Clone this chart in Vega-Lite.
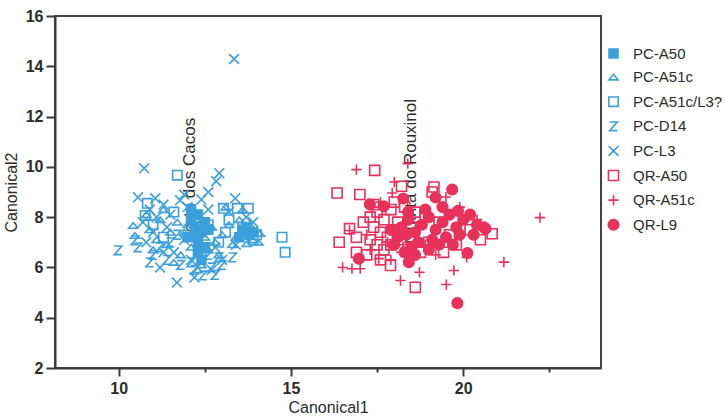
{
  "$schema": "https://vega.github.io/schema/vega-lite/v6.json",
  "width": 546,
  "height": 352,
  "autosize": {"type": "none"},
  "padding": {"left": 55, "top": 16, "right": 124, "bottom": 50},
  "background": "white",
  "config": {
    "font": "Liberation Sans",
    "view": {"stroke": "#454545", "strokeWidth": 2},
    "axis": {
      "grid": false,
      "domainColor": "#3a3a3a",
      "domainWidth": 2,
      "tickColor": "#3a3a3a",
      "tickWidth": 2,
      "labelFont": "Liberation Sans",
      "labelFontSize": 16,
      "labelFontWeight": "bold",
      "labelColor": "#2b2b2b",
      "titleFont": "Liberation Sans",
      "titleFontSize": 16,
      "titleFontWeight": "normal",
      "titleColor": "#2b2b2b"
    },
    "legend": {
      "padding": 0,
      "labelFont": "Liberation Sans",
      "labelFontSize": 15,
      "labelColor": "#2b2b2b",
      "rowPadding": 7.6,
      "labelOffset": 12,
      "symbolStrokeWidth": 1.6
    }
  },
  "encoding": {
    "x": {
      "field": "x",
      "type": "quantitative",
      "scale": {"domain": [8.15, 24], "nice": false, "zero": false},
      "axis": {
        "title": "Canonical1",
        "values": [10, 12.5, 15, 17.5, 20, 22.5],
        "labelExpr": "datum.value % 5 === 0 ? datum.label : ''",
        "tickSize": {"condition": {"test": "datum.value % 5 !== 0", "value": 4}, "value": 8},
        "labelPadding": 4,
        "titlePadding": 3
      }
    },
    "y": {
      "field": "y",
      "type": "quantitative",
      "scale": {"domain": [2, 16], "nice": false, "zero": false},
      "axis": {
        "title": "Canonical2",
        "values": [2, 4, 6, 8, 10, 12, 14, 16],
        "tickSize": 9,
        "labelPadding": 3,
        "titlePadding": 6
      }
    }
  },
  "layer": [
    {
      "data": {
        "values": [
          {"site": "Porto dos Cacos", "x": 12.07, "y": 6.95},
          {"site": "Quinta do Rouxinol", "x": 18.47, "y": 6.95}
        ]
      },
      "mark": {"type": "text", "angle": 270, "align": "left", "baseline": "middle", "fontSize": 17, "color": "#2a2a2a", "font": "Liberation Sans"},
      "encoding": {"text": {"field": "site", "type": "nominal"}}
    },
    {
      "data": {
        "values": [
          {"g": "PC-L3", "x": 13.35, "y": 14.29},
          {"g": "PC-L3", "x": 10.74, "y": 9.94},
          {"g": "PC-L3", "x": 12.92, "y": 9.75},
          {"g": "PC-L3", "x": 12.83, "y": 9.43},
          {"g": "PC-L3", "x": 10.56, "y": 8.79},
          {"g": "PC-L3", "x": 11.06, "y": 8.75},
          {"g": "PC-L3", "x": 11.78, "y": 8.67},
          {"g": "PC-L3", "x": 13.38, "y": 8.75},
          {"g": "PC-L3", "x": 11.2, "y": 6.0},
          {"g": "PC-L3", "x": 11.69, "y": 5.4},
          {"g": "PC-L3", "x": 10.9, "y": 8.3},
          {"g": "PC-L3", "x": 11.3, "y": 8.5},
          {"g": "PC-L3", "x": 11.5, "y": 8.1},
          {"g": "PC-L3", "x": 12.0, "y": 8.4},
          {"g": "PC-L3", "x": 12.4, "y": 8.7},
          {"g": "PC-L3", "x": 11.4, "y": 7.6},
          {"g": "PC-L3", "x": 11.0, "y": 7.4},
          {"g": "PC-L3", "x": 10.8, "y": 7.0},
          {"g": "PC-L3", "x": 11.6, "y": 6.6},
          {"g": "PC-L3", "x": 12.1, "y": 6.3},
          {"g": "PC-L3", "x": 12.7, "y": 5.9},
          {"g": "PC-L3", "x": 13.0, "y": 6.3},
          {"g": "PC-L3", "x": 13.2, "y": 8.2},
          {"g": "PC-L3", "x": 13.7, "y": 8.0},
          {"g": "PC-L3", "x": 12.6, "y": 8.3},
          {"g": "PC-L3", "x": 11.9, "y": 7.1},
          {"g": "PC-L3", "x": 12.8, "y": 6.8},
          {"g": "PC-L3", "x": 11.3, "y": 6.6},
          {"g": "PC-L3", "x": 13.4, "y": 6.9},
          {"g": "PC-L3", "x": 10.7, "y": 7.8},
          {"g": "PC-L3", "x": 11.9, "y": 8.9},
          {"g": "PC-L3", "x": 12.6, "y": 9.0},
          {"g": "PC-L3", "x": 13.9, "y": 7.8},
          {"g": "PC-L3", "x": 12.2, "y": 5.6},
          {"g": "PC-L3", "x": 11.1, "y": 8.0},
          {"g": "PC-A51c", "x": 10.42, "y": 7.67},
          {"g": "PC-A51c", "x": 10.47, "y": 7.27},
          {"g": "PC-A51c", "x": 10.9, "y": 7.5},
          {"g": "PC-A51c", "x": 11.2, "y": 7.9},
          {"g": "PC-A51c", "x": 11.1, "y": 7.1},
          {"g": "PC-A51c", "x": 11.5, "y": 7.4},
          {"g": "PC-A51c", "x": 11.7, "y": 7.8},
          {"g": "PC-A51c", "x": 11.4, "y": 6.9},
          {"g": "PC-A51c", "x": 11.8, "y": 6.5},
          {"g": "PC-A51c", "x": 12.0, "y": 7.7},
          {"g": "PC-A51c", "x": 12.2, "y": 8.1},
          {"g": "PC-A51c", "x": 12.5, "y": 7.2},
          {"g": "PC-A51c", "x": 12.7, "y": 7.6},
          {"g": "PC-A51c", "x": 12.8, "y": 7.0},
          {"g": "PC-A51c", "x": 13.0, "y": 7.3},
          {"g": "PC-A51c", "x": 13.2, "y": 7.7},
          {"g": "PC-A51c", "x": 13.5, "y": 7.9},
          {"g": "PC-A51c", "x": 13.72, "y": 6.94},
          {"g": "PC-A51c", "x": 14.05, "y": 7.0},
          {"g": "PC-A51c", "x": 14.1, "y": 7.35},
          {"g": "PC-A51c", "x": 13.3, "y": 6.9},
          {"g": "PC-A51c", "x": 13.8, "y": 7.7},
          {"g": "PC-A51c", "x": 13.6, "y": 8.3},
          {"g": "PC-A51c", "x": 13.1, "y": 8.4},
          {"g": "PC-A51c", "x": 12.9, "y": 6.5},
          {"g": "PC-A51c", "x": 12.4, "y": 6.1},
          {"g": "PC-A51c", "x": 11.6, "y": 6.2},
          {"g": "PC-A51c", "x": 11.0, "y": 6.7},
          {"g": "PC-A51c", "x": 10.8, "y": 8.1},
          {"g": "PC-A51c", "x": 11.9, "y": 7.4},
          {"g": "PC-A51c", "x": 12.6, "y": 6.7},
          {"g": "PC-A51c", "x": 13.4, "y": 7.2},
          {"g": "PC-A51c", "x": 13.9, "y": 7.1},
          {"g": "PC-A51c", "x": 12.1, "y": 6.8},
          {"g": "PC-A51c", "x": 11.3, "y": 8.3},
          {"g": "PC-A51c", "x": 12.3, "y": 5.9},
          {"g": "PC-A51c/L3?", "x": 11.7, "y": 9.67},
          {"g": "PC-A51c/L3?", "x": 10.83, "y": 8.55},
          {"g": "PC-A51c/L3?", "x": 10.77, "y": 8.07},
          {"g": "PC-A51c/L3?", "x": 13.04, "y": 8.35},
          {"g": "PC-A51c/L3?", "x": 13.44, "y": 8.35},
          {"g": "PC-A51c/L3?", "x": 13.76, "y": 8.35},
          {"g": "PC-A51c/L3?", "x": 14.74, "y": 7.2},
          {"g": "PC-A51c/L3?", "x": 14.83, "y": 6.6},
          {"g": "PC-A51c/L3?", "x": 12.2, "y": 8.0},
          {"g": "PC-A51c/L3?", "x": 12.6, "y": 7.7},
          {"g": "PC-A51c/L3?", "x": 13.2, "y": 7.9},
          {"g": "PC-A51c/L3?", "x": 13.6, "y": 7.6},
          {"g": "PC-A51c/L3?", "x": 11.3, "y": 7.2},
          {"g": "PC-A51c/L3?", "x": 13.9, "y": 7.1},
          {"g": "PC-A51c/L3?", "x": 13.1, "y": 7.4},
          {"g": "PC-A51c/L3?", "x": 11.6, "y": 8.2},
          {"g": "PC-A51c/L3?", "x": 12.9, "y": 7.0},
          {"g": "PC-A51c/L3?", "x": 14.0, "y": 7.3},
          {"g": "PC-A51c/L3?", "x": 11.0, "y": 7.7},
          {"g": "PC-A51c/L3?", "x": 12.4, "y": 6.6},
          {"g": "PC-D14", "x": 9.98, "y": 6.68},
          {"g": "PC-D14", "x": 10.47, "y": 7.08},
          {"g": "PC-D14", "x": 10.56, "y": 6.8},
          {"g": "PC-D14", "x": 12.45, "y": 5.68},
          {"g": "PC-D14", "x": 11.0, "y": 6.5},
          {"g": "PC-D14", "x": 11.4, "y": 6.3},
          {"g": "PC-D14", "x": 11.8, "y": 6.1},
          {"g": "PC-D14", "x": 12.7, "y": 6.0},
          {"g": "PC-D14", "x": 12.1, "y": 6.2},
          {"g": "PC-D14", "x": 11.5, "y": 7.0},
          {"g": "PC-D14", "x": 12.9, "y": 6.4},
          {"g": "PC-D14", "x": 12.2, "y": 5.9},
          {"g": "PC-D14", "x": 13.0, "y": 6.1},
          {"g": "PC-D14", "x": 11.2, "y": 6.8},
          {"g": "PC-D14", "x": 12.6, "y": 6.5},
          {"g": "PC-D14", "x": 11.7, "y": 7.3},
          {"g": "PC-D14", "x": 10.9, "y": 6.2},
          {"g": "PC-D14", "x": 13.3, "y": 6.4},
          {"g": "PC-D14", "x": 12.8, "y": 5.7},
          {"g": "PC-A50", "x": 12.1, "y": 7.9},
          {"g": "PC-A50", "x": 12.3, "y": 8.1},
          {"g": "PC-A50", "x": 12.5, "y": 7.8},
          {"g": "PC-A50", "x": 12.2, "y": 7.6},
          {"g": "PC-A50", "x": 12.4, "y": 7.4},
          {"g": "PC-A50", "x": 12.0, "y": 7.2},
          {"g": "PC-A50", "x": 12.3, "y": 7.0},
          {"g": "PC-A50", "x": 12.5, "y": 6.8},
          {"g": "PC-A50", "x": 12.3, "y": 6.6},
          {"g": "PC-A50", "x": 12.4, "y": 6.3},
          {"g": "PC-A50", "x": 12.2, "y": 7.3},
          {"g": "PC-A50", "x": 13.6, "y": 7.5},
          {"g": "PC-A50", "x": 13.8, "y": 7.3},
          {"g": "PC-A50", "x": 13.7, "y": 7.6},
          {"g": "PC-A50", "x": 13.9, "y": 7.4},
          {"g": "PC-A50", "x": 13.5, "y": 7.2},
          {"g": "PC-A50", "x": 12.6, "y": 7.5},
          {"g": "PC-A50", "x": 12.1, "y": 8.3},
          {"g": "QR-A50", "x": 17.43, "y": 9.86},
          {"g": "QR-A50", "x": 16.34, "y": 8.96},
          {"g": "QR-A50", "x": 18.21, "y": 9.23},
          {"g": "QR-A50", "x": 19.15, "y": 9.2},
          {"g": "QR-A50", "x": 16.7, "y": 7.54},
          {"g": "QR-A50", "x": 18.61, "y": 5.21},
          {"g": "QR-A50", "x": 17.89, "y": 6.08},
          {"g": "QR-A50", "x": 20.84, "y": 7.34},
          {"g": "QR-A50", "x": 18.76, "y": 6.6},
          {"g": "QR-A50", "x": 19.43, "y": 6.6},
          {"g": "QR-A50", "x": 17.3, "y": 8.0},
          {"g": "QR-A50", "x": 17.5, "y": 8.2},
          {"g": "QR-A50", "x": 17.7, "y": 7.9},
          {"g": "QR-A50", "x": 17.9, "y": 8.3},
          {"g": "QR-A50", "x": 18.1, "y": 7.8},
          {"g": "QR-A50", "x": 17.4, "y": 7.6},
          {"g": "QR-A50", "x": 17.6, "y": 7.4},
          {"g": "QR-A50", "x": 17.8, "y": 7.2},
          {"g": "QR-A50", "x": 18.0, "y": 7.5},
          {"g": "QR-A50", "x": 18.2, "y": 7.1},
          {"g": "QR-A50", "x": 17.3, "y": 7.1},
          {"g": "QR-A50", "x": 17.5, "y": 6.9},
          {"g": "QR-A50", "x": 17.7, "y": 6.7},
          {"g": "QR-A50", "x": 17.2, "y": 6.5},
          {"g": "QR-A50", "x": 17.9, "y": 6.9},
          {"g": "QR-A50", "x": 18.3, "y": 8.4},
          {"g": "QR-A50", "x": 17.4, "y": 8.5},
          {"g": "QR-A50", "x": 18.0, "y": 8.6},
          {"g": "QR-A50", "x": 16.9, "y": 7.2},
          {"g": "QR-A50", "x": 17.1, "y": 7.8},
          {"g": "QR-A50", "x": 18.4, "y": 6.8},
          {"g": "QR-A50", "x": 19.0, "y": 7.0},
          {"g": "QR-A50", "x": 19.6, "y": 7.3},
          {"g": "QR-A50", "x": 18.9, "y": 8.0},
          {"g": "QR-A50", "x": 19.3, "y": 7.8},
          {"g": "QR-A50", "x": 20.2, "y": 7.5},
          {"g": "QR-A50", "x": 17.6, "y": 6.3},
          {"g": "QR-A50", "x": 18.5, "y": 7.6},
          {"g": "QR-A50", "x": 16.4, "y": 7.0},
          {"g": "QR-A50", "x": 16.9, "y": 6.6},
          {"g": "QR-A50", "x": 17.0, "y": 8.9},
          {"g": "QR-A50", "x": 18.6, "y": 8.2},
          {"g": "QR-A50", "x": 19.8, "y": 6.9},
          {"g": "QR-A50", "x": 20.5, "y": 7.1},
          {"g": "QR-A50", "x": 19.1, "y": 9.0},
          {"g": "QR-A51c", "x": 16.9, "y": 9.89},
          {"g": "QR-A51c", "x": 18.39, "y": 10.13},
          {"g": "QR-A51c", "x": 17.94, "y": 8.96},
          {"g": "QR-A51c", "x": 16.7, "y": 7.47},
          {"g": "QR-A51c", "x": 16.77, "y": 5.95},
          {"g": "QR-A51c", "x": 17.01, "y": 5.95},
          {"g": "QR-A51c", "x": 17.55, "y": 6.35},
          {"g": "QR-A51c", "x": 18.18, "y": 5.48},
          {"g": "QR-A51c", "x": 19.51, "y": 5.32},
          {"g": "QR-A51c", "x": 19.73, "y": 5.88},
          {"g": "QR-A51c", "x": 21.18, "y": 6.21},
          {"g": "QR-A51c", "x": 22.23, "y": 7.98},
          {"g": "QR-A51c", "x": 18.73, "y": 5.81},
          {"g": "QR-A51c", "x": 17.2, "y": 7.3},
          {"g": "QR-A51c", "x": 17.8, "y": 7.0},
          {"g": "QR-A51c", "x": 18.2, "y": 6.6},
          {"g": "QR-A51c", "x": 17.6, "y": 8.6},
          {"g": "QR-A51c", "x": 18.6, "y": 7.3},
          {"g": "QR-A51c", "x": 19.2, "y": 6.5},
          {"g": "QR-A51c", "x": 19.9, "y": 8.4},
          {"g": "QR-A51c", "x": 20.4, "y": 7.9},
          {"g": "QR-A51c", "x": 17.3, "y": 6.7},
          {"g": "QR-A51c", "x": 18.9, "y": 6.9},
          {"g": "QR-A51c", "x": 16.5, "y": 6.0},
          {"g": "QR-A51c", "x": 17.9, "y": 6.3},
          {"g": "QR-A51c", "x": 20.1, "y": 6.4},
          {"g": "QR-A51c", "x": 19.5, "y": 8.8},
          {"g": "QR-A51c", "x": 18.0, "y": 9.4},
          {"g": "QR-L9", "x": 19.68, "y": 9.1},
          {"g": "QR-L9", "x": 17.29, "y": 8.51},
          {"g": "QR-L9", "x": 17.69, "y": 8.43},
          {"g": "QR-L9", "x": 18.26, "y": 8.74},
          {"g": "QR-L9", "x": 19.2, "y": 8.78},
          {"g": "QR-L9", "x": 16.97, "y": 6.35},
          {"g": "QR-L9", "x": 18.42, "y": 6.21},
          {"g": "QR-L9", "x": 20.12, "y": 6.57},
          {"g": "QR-L9", "x": 19.83, "y": 4.58},
          {"g": "QR-L9", "x": 20.65, "y": 7.54},
          {"g": "QR-L9", "x": 18.2, "y": 7.6},
          {"g": "QR-L9", "x": 18.4, "y": 7.9},
          {"g": "QR-L9", "x": 18.6, "y": 7.4},
          {"g": "QR-L9", "x": 18.8, "y": 7.7},
          {"g": "QR-L9", "x": 19.0, "y": 8.0},
          {"g": "QR-L9", "x": 19.2, "y": 7.5},
          {"g": "QR-L9", "x": 19.4, "y": 7.8},
          {"g": "QR-L9", "x": 19.6, "y": 8.1},
          {"g": "QR-L9", "x": 19.8, "y": 7.6},
          {"g": "QR-L9", "x": 20.0, "y": 7.9},
          {"g": "QR-L9", "x": 20.2, "y": 8.1},
          {"g": "QR-L9", "x": 20.4, "y": 7.7},
          {"g": "QR-L9", "x": 19.1, "y": 7.1},
          {"g": "QR-L9", "x": 19.3, "y": 6.9},
          {"g": "QR-L9", "x": 18.7, "y": 7.0},
          {"g": "QR-L9", "x": 18.5, "y": 6.8},
          {"g": "QR-L9", "x": 18.3, "y": 6.6},
          {"g": "QR-L9", "x": 19.5, "y": 7.2},
          {"g": "QR-L9", "x": 19.7, "y": 6.9},
          {"g": "QR-L9", "x": 18.9, "y": 8.3},
          {"g": "QR-L9", "x": 19.9, "y": 7.3},
          {"g": "QR-L9", "x": 18.1, "y": 7.2},
          {"g": "QR-L9", "x": 18.4, "y": 8.2},
          {"g": "QR-L9", "x": 20.3, "y": 7.3},
          {"g": "QR-L9", "x": 18.6, "y": 6.5},
          {"g": "QR-L9", "x": 19.0, "y": 6.7},
          {"g": "QR-L9", "x": 19.4, "y": 8.4},
          {"g": "QR-L9", "x": 18.0, "y": 6.9},
          {"g": "QR-L9", "x": 17.9, "y": 7.5},
          {"g": "QR-L9", "x": 20.6, "y": 7.6},
          {"g": "QR-L9", "x": 18.35, "y": 7.3},
          {"g": "QR-L9", "x": 19.85, "y": 8.25}
        ]
      },
      "mark": {"type": "point", "opacity": 1, "strokeWidth": 1.6},
      "encoding": {
        "shape": {
          "field": "g",
          "type": "nominal",
          "title": null,
          "scale": {
            "domain": ["PC-A50", "PC-A51c", "PC-A51c/L3?", "PC-D14", "PC-L3", "QR-A50", "QR-A51c", "QR-L9"],
            "range": ["square", "M-1,0.6L1,0.6L0,-0.6Z", "square", "M-0.8,-0.9L0.8,-0.9L-0.8,0.9L0.8,0.9", "M-1,-1L1,1M-1,1L1,-1", "square", "M-1,0L1,0M0,-1L0,1", "circle"]
          },
          "legend": {"orient": "none", "legendX": 551, "legendY": 30}
        },
        "fill": {
          "field": "g",
          "type": "nominal",
          "title": null,
          "scale": {
            "domain": ["PC-A50", "PC-A51c", "PC-A51c/L3?", "PC-D14", "PC-L3", "QR-A50", "QR-A51c", "QR-L9"],
            "range": ["#3b9fdb", "transparent", "transparent", "transparent", "transparent", "transparent", "transparent", "#e8315b"]
          },
          "legend": {"orient": "none", "legendX": 551, "legendY": 30}
        },
        "stroke": {
          "field": "g",
          "type": "nominal",
          "title": null,
          "scale": {
            "domain": ["PC-A50", "PC-A51c", "PC-A51c/L3?", "PC-D14", "PC-L3", "QR-A50", "QR-A51c", "QR-L9"],
            "range": ["#3b9fdb", "#3b9fdb", "#3b9fdb", "#3b9fdb", "#3b9fdb", "#e8315b", "#e8315b", "#e8315b"]
          },
          "legend": {"orient": "none", "legendX": 551, "legendY": 30}
        },
        "size": {
          "field": "g",
          "type": "nominal",
          "title": null,
          "scale": {
            "domain": ["PC-A50", "PC-A51c", "PC-A51c/L3?", "PC-D14", "PC-L3", "QR-A50", "QR-A51c", "QR-L9"],
            "range": [80, 110, 90, 70, 100, 90, 100, 100]
          },
          "legend": {"orient": "none", "legendX": 551, "legendY": 30}
        }
      }
    }
  ]
}
